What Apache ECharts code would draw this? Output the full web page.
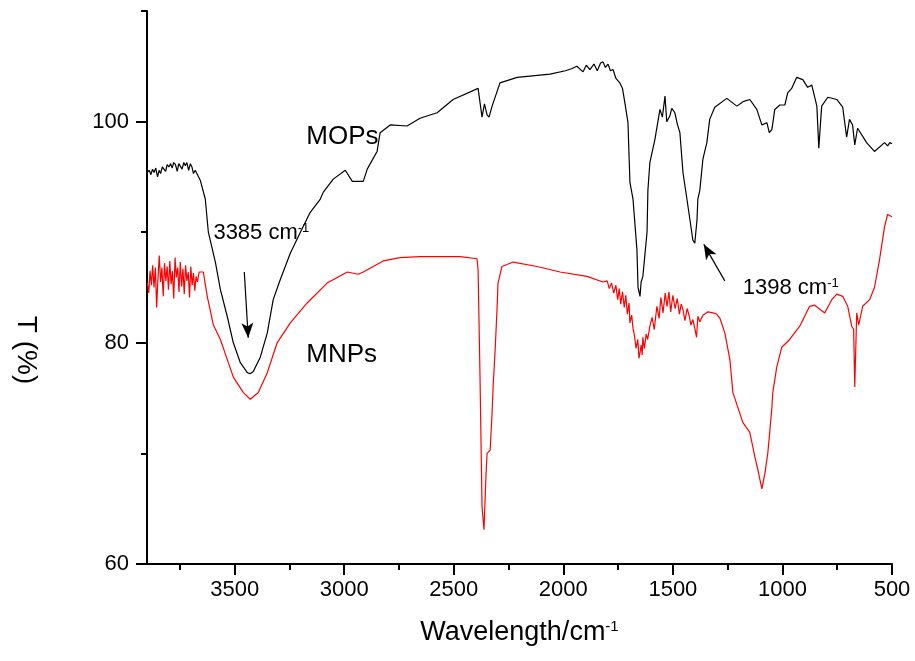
<!DOCTYPE html>
<html>
<head>
<meta charset="utf-8">
<script src="https://cdn.jsdelivr.net/npm/echarts@6/dist/echarts.min.js"></script>
<style>html,body{margin:0;padding:0;background:#fff}#chart{width:915px;height:661px}</style>
</head>
<body>
<div id="chart"></div>
<script>
// Wavenumbers (cm-1) and transmittance (%)
const wnMOPs = [3898,3890,3882,3875,3868,3860,3852,3845,3838,3830,3822,3815,3808,3800,3792,3785,3778,3770,3762,3755,3748,3740,3732,3725,3718,3710,3702,3695,3688,3680,
  3657,3634,3620,3588,3565,3534,3506,3474,3442,3429,3415,3383,3351,3324,3292,3246,3200,3155,3109,3096,3050,2995,2963,2936,2913,2895,2850,2836,2790,2713,2654,2576,2503,2389,
  2371,2360,2348,2339,2325,2289,2211,2061,1990,1960,1938,1910,1895,1879,1860,1845,1830,1819,1808,1796,1785,1773,1760,1742,1730,1719,1705,1696,1682,1664,1659,1650,1645,1637,1618,1614,1605,1582,1559,
  1548,1536,1528,1514,1505,1491,1480,1468,1454,1436,1422,1409,1400,1390,1386,1377,1363,1345,1332,1309,1254,1208,1180,1149,1117,1094,1071,1060,1048,1035,1012,989,976,958,935,907,885,866,843,834,821,793,752,725,707,694,680,670,657,616,580,534,520,510,500];
const tMOPs = [95.4,95.6,95.2,95.7,95.4,95.8,95.0,95.6,95.3,95.9,95.8,95.5,96.1,95.9,96.2,95.8,96.3,96.1,95.5,96.2,96.3,95.7,96.3,96.0,96.3,95.6,96.2,95.9,95.3,95.6,
  94.7,93.0,90.0,87.3,84.8,82.4,80.0,78.2,77.3,77.2,77.4,78.7,80.9,83.9,85.7,88.1,90.0,91.8,93.0,93.6,94.8,95.6,94.6,94.6,94.6,95.7,97.3,99.0,99.7,99.6,100.3,100.8,102.0,103.0,
  100.4,101.6,100.6,100.4,101.4,103.5,104.0,104.3,104.6,104.8,105.0,104.5,105.1,104.7,105.2,104.6,105.3,105.4,104.9,105.2,104.6,104.7,103.9,103.5,103.0,101.7,99.9,94.5,93.0,88.4,85.0,84.2,85.5,86.0,90.0,93.8,96.3,98.4,101.1,
  100.4,102.3,100.0,100.5,101.2,100.8,99.8,99.0,95.4,93.0,91.1,89.3,89.0,91.1,93.0,93.8,96.6,98.1,100.2,101.3,102.1,101.4,101.8,102.0,101.1,99.7,99.9,99.0,99.3,101.1,101.5,101.5,102.6,103.0,104.0,103.8,103.1,103.3,101.4,97.6,101.4,102.2,102.0,101.3,98.6,100.2,99.7,97.9,99.4,98.1,97.3,98.1,97.8,98.1,98.0];

const wnMNPs = [3898,3892,3886,3880,3874,3868,3862,3856,3850,3844,3838,3832,3826,3820,3814,3808,3802,3796,3790,3784,3778,3772,3766,3760,3754,3748,3742,3736,3730,3724,3718,3712,3706,3700,3694,3688,3682,3676,3670,3662,
  3643,3625,3597,3565,3534,3506,3460,3429,3392,3351,3306,3246,3169,3078,2986,2936,2913,2822,2745,2654,2471,2394,2389,2380,2371,2362,2353,2348,2334,2325,2320,2311,2302,2298,2280,2229,2120,2015,1892,
  1819,1800,1790,1780,1770,1760,1752,1745,1738,1730,1722,1715,1708,1700,1696,1688,1682,1675,1668,1660,1655,1650,1645,1640,1637,1630,1622,1615,1605,1595,1585,1573,1563,1555,1545,1535,1527,1518,1510,1500,1490,1480,1470,1462,1454,1445,1435,1425,1418,1409,1400,1392,1386,1377,1363,1340,1317,1300,1285,
  1263,1240,1226,1181,1149,1126,1112,1094,1080,1067,1058,1048,1044,1026,1003,967,921,876,853,807,775,752,725,702,684,675,670,661,652,634,602,580,557,534,520,500];
const tMNPs = [85.4,84.5,86.5,85.2,87.0,85.0,86.8,83.2,85.8,87.9,85.5,86.8,84.2,87.2,85.6,86.9,84.8,87.4,85.3,86.5,84.0,87.7,85.9,86.8,84.6,87.3,85.1,86.7,84.4,87.0,85.6,86.4,84.1,86.9,85.2,86.3,84.7,86.0,85.5,86.4,
  86.4,84.2,81.6,80.3,78.5,76.9,75.5,74.9,75.5,77.3,80.0,81.8,83.6,85.4,86.4,86.2,86.4,87.4,87.7,87.8,87.8,87.6,86.6,76.7,65.2,63.1,68.0,70.0,70.3,73.7,76.2,79.4,83.3,85.4,86.9,87.3,86.9,86.4,86.0,
  85.5,85.6,84.9,85.4,84.5,85.2,83.9,84.9,83.5,84.6,83.2,84.3,82.6,83.6,81.8,82.5,81.3,80.6,79.5,80.3,78.6,79.1,79.8,78.9,80.5,79.5,80.8,80.3,81.5,82.3,81.2,83.3,82.2,84.1,82.7,84.5,83.3,84.6,82.8,84.3,83.1,84.0,82.6,83.5,83.0,82.0,83.1,82.4,81.6,82.1,81.3,80.5,82.4,81.9,82.5,82.8,82.7,82.6,82.2,
  80.9,78.5,75.5,72.8,71.9,69.7,68.5,66.8,68.2,70.0,71.9,74.2,75.5,77.8,79.6,80.3,81.5,83.3,83.4,82.7,83.9,84.4,84.2,83.3,81.5,81.2,76.0,82.7,81.6,83.3,83.9,85.0,87.5,90.5,91.6,91.4];

const xMajorTicks = [500,1000,1500,2000,2500,3000,3500];
const xMinorTicks = [750,1250,1750,2250,2750,3250,3750];
const yMajorTicks = [60,80,100];
const yMinorTicks = [70,90,110];

// annotations (data coordinates)
const labelMOPs = [3173, 98.6];
const labelMNPs = [3173, 78.9];
const label3385 = [3597, 89.95];
const label1398 = [1181, 85.0];
const arrow3385 = [[3456, 86.4], [3438, 80.45]];
const arrow1398 = [[1263, 85.6], [1359, 88.9]];

const FONT = 'Liberation Sans, Arial, sans-serif';
const pairs = (w, t) => w.map((v, i) => [v, t[i]]);
const plain = v => String(v);

const chart = echarts.init(document.getElementById('chart'));
const axisCommon = {
  type: 'value', min: 500, max: 3900, inverse: true,
  splitLine: { show: false }
};
const option = {
  animation: false,
  backgroundColor: '#fff',
  grid: { left: 147, right: 23, top: 11, bottom: 97, containLabel: false },
  xAxis: [
    Object.assign({}, axisCommon, {
      position: 'bottom',
      name: '{a|Wavelength/cm}{b|-1}',
      nameLocation: 'middle', nameGap: 55,
      nameTextStyle: { rich: {
        a: { fontFamily: FONT, fontSize: 27, color: '#000' },
        b: { fontFamily: FONT, fontSize: 15, color: '#000', verticalAlign: 'top' }
      } },
      axisLine: { show: true, lineStyle: { color: '#000', width: 2 } },
      axisTick: { show: true, length: 11, lineStyle: { color: '#000', width: 2 }, customValues: xMajorTicks },
      axisLabel: { margin: 15, fontFamily: FONT, fontSize: 22, color: '#000', customValues: xMajorTicks, formatter: plain }
    }),
    Object.assign({}, axisCommon, {
      position: 'bottom',
      axisLine: { show: false },
      axisTick: { show: true, length: 6, lineStyle: { color: '#000', width: 2 }, customValues: xMinorTicks },
      axisLabel: { show: false }
    })
  ],
  yAxis: [
    {
      type: 'value', min: 60, max: 110, position: 'left',
      splitLine: { show: false },
      axisLine: { show: true, lineStyle: { color: '#000', width: 2 } },
      axisTick: { show: true, length: 11, lineStyle: { color: '#000', width: 2 }, customValues: yMajorTicks },
      axisLabel: { margin: 18, fontFamily: FONT, fontSize: 22, color: '#000', customValues: yMajorTicks, formatter: plain }
    },
    {
      type: 'value', min: 60, max: 110, position: 'left',
      splitLine: { show: false },
      axisLine: { show: false },
      axisTick: { show: true, length: 6, lineStyle: { color: '#000', width: 2 }, customValues: yMinorTicks },
      axisLabel: { show: false }
    }
  ],
  graphic: [{
    type: 'text', x: 26, y: 350, rotation: -Math.PI / 2,
    style: { text: 'T (%)', fontFamily: FONT, fontSize: 28, fill: '#000', align: 'center', verticalAlign: 'middle' }
  }],
  series: [
    {
      name: 'MOPs', type: 'line', data: pairs(wnMOPs, tMOPs),
      showSymbol: false, symbol: 'none', lineStyle: { color: '#000', width: 1.2 }, itemStyle: { color: '#000' },
      markPoint: {
        symbol: 'circle', symbolSize: 0, silent: true,
        label: { show: true, position: 'right', distance: 0, color: '#000', fontFamily: FONT,
          rich: { a: { fontSize: 22, fontFamily: FONT, color: '#000' }, b: { fontSize: 13, fontFamily: FONT, color: '#000', verticalAlign: 'top' }, m: { fontSize: 26, fontFamily: FONT, color: '#000' } } },
        data: [
          { coord: labelMOPs, label: { formatter: '{m|MOPs}' } },
          { coord: labelMNPs, label: { formatter: '{m|MNPs}' } },
          { coord: label3385, label: { formatter: '{a|3385 cm}{b|-1}' } },
          { coord: label1398, label: { formatter: '{a|1398 cm}{b|-1}' } }
        ]
      },
      markLine: {
        silent: true, symbol: ['none', 'arrow'], symbolSize: [9, 15],
        label: { show: false },
        lineStyle: { color: '#000', width: 1.2, type: 'solid' },
        data: [
          [{ coord: arrow3385[0] }, { coord: arrow3385[1] }],
          [{ coord: arrow1398[0] }, { coord: arrow1398[1] }]
        ]
      }
    },
    {
      name: 'MNPs', type: 'line', data: pairs(wnMNPs, tMNPs),
      showSymbol: false, symbol: 'none', lineStyle: { color: '#ff0000', width: 1.2 }, itemStyle: { color: '#ff0000' }
    }
  ]
};
chart.setOption(option);
</script>
</body>
</html>
